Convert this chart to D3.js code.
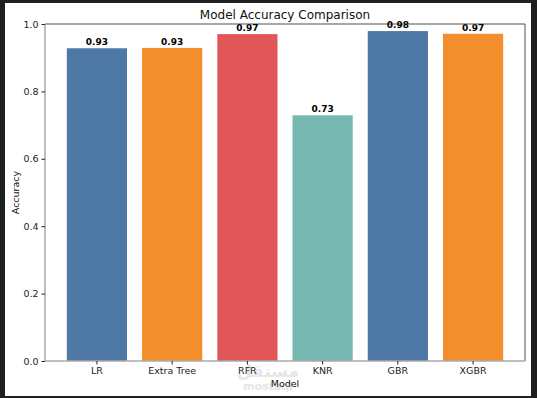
<html>
<head>
    <script src="https://d3js.org/d3.v7.min.js"></script>
    <style>
        body { margin: 0; background: #1f1f1f; }
        text { font-family: "DejaVu Sans", sans-serif; }
    </style>
</head>
<body>
    <div id="chart">
        <svg width="537" height="398"></svg>
    </div>
    <script>
        // data
        var models = ["LR", "Extra Tree", "RFR", "KNR", "GBR", "XGBR"]
        var accuracy = [0.928, 0.929, 0.970, 0.729, 0.979, 0.971]
        var barColors = ["#4e79a7", "#f28e2b", "#e15759", "#76b7b2", "#4e79a7", "#f28e2b"]
        var yTicks = [0.0, 0.2, 0.4, 0.6, 0.8, 1.0]

        var svg = d3.select("#chart svg")

        // white figure area
        svg.append("rect")
            .attr("x", 5).attr("y", 3)
            .attr("width", 526).attr("height", 393)
            .style("fill", "#fff")

        // plot box (note: "top" is reserved on window, so use plotX/plotY names)
        var plotL = 45, plotT = 24, plotR = 525, plotB = 361

        var xScale = d3.scaleBand()
            .domain(models)
            .range([plotL, plotR])
            .paddingInner(0.2)
            .paddingOuter(0.29)

        var yScale = d3.scaleLinear()
            .domain([0, 1])
            .range([plotB, plotT])

        // watermark
        svg.append("text")
            .attr("x", 268).attr("y", 377)
            .attr("text-anchor", "middle")
            .style("font-size", "17px").style("font-weight", "bold")
            .style("fill", "#e6e6e6")
            .text("مستقل")
        svg.append("text")
            .attr("x", 268).attr("y", 390)
            .attr("text-anchor", "middle")
            .style("font-size", "11px").style("font-weight", "bold")
            .style("fill", "#e6e6e6")
            .text("mostaql")

        // bars
        svg.selectAll("rect.bar")
            .data(models)
            .enter()
            .append("rect")
            .attr("class", "bar")
            .attr("x", function(d) { return xScale(d) })
            .attr("y", function(d, i) { return yScale(accuracy[i]) })
            .attr("width", xScale.bandwidth())
            .attr("height", function(d, i) { return plotB - yScale(accuracy[i]) })
            .style("fill", function(d, i) { return barColors[i] })

        // value labels
        svg.selectAll("text.val")
            .data(models)
            .enter()
            .append("text")
            .attr("class", "val")
            .attr("x", function(d) { return xScale(d) + xScale.bandwidth() / 2 })
            .attr("y", function(d, i) { return yScale(accuracy[i]) - 3 })
            .attr("text-anchor", "middle")
            .style("font-size", "9px")
            .style("font-weight", "bold")
            .style("fill", "#000")
            .text(function(d, i) { return d3.format(".2f")(accuracy[i]) })

        // spines
        svg.append("line").attr("x1", plotL).attr("x2", plotR).attr("y1", plotT).attr("y2", plotT)
            .style("stroke", "#222").style("stroke-width", 0.8)
        svg.append("line").attr("x1", plotR).attr("x2", plotR).attr("y1", plotT).attr("y2", plotB)
            .style("stroke", "#222").style("stroke-width", 0.8)

        var xAxis = d3.axisBottom(xScale).tickSize(3.5).tickPadding(3)
        var gx = svg.append("g")
            .attr("transform", "translate(0," + plotB + ")")
            .call(xAxis)
        gx.select(".domain").style("stroke", "#aaa").style("stroke-width", 1.5)
            .attr("d", "M" + plotL + ",0H" + plotR)
        gx.selectAll(".tick line").style("stroke", "#222")
        gx.selectAll(".tick text").style("font-size", "9.5px").style("fill", "#222")
            .style("font-family", "DejaVu Sans")

        var yAxis = d3.axisLeft(yScale).tickValues(yTicks).tickFormat(d3.format(".1f"))
            .tickSize(3.5).tickPadding(3)
        var gy = svg.append("g")
            .attr("transform", "translate(" + plotL + ",0)")
            .call(yAxis)
        gy.select(".domain").style("stroke", "#aaa").style("stroke-width", 1.5)
            .attr("d", "M0," + plotB + "V" + plotT)
        gy.selectAll(".tick line").style("stroke", "#222")
        gy.selectAll(".tick text").style("font-size", "9.5px").style("fill", "#222")
            .style("font-family", "DejaVu Sans")

        // title and axis labels
        svg.append("text")
            .attr("x", (plotL + plotR) / 2).attr("y", 19)
            .attr("text-anchor", "middle")
            .style("font-size", "12px").style("fill", "#111")
            .text("Model Accuracy Comparison")

        svg.append("text")
            .attr("x", (plotL + plotR) / 2).attr("y", 387)
            .attr("text-anchor", "middle")
            .style("font-size", "9.5px").style("fill", "#111")
            .text("Model")

        svg.append("text")
            .attr("transform", "translate(19," + (plotT + plotB) / 2 + ") rotate(-90)")
            .attr("text-anchor", "middle")
            .style("font-size", "9.5px").style("fill", "#111")
            .text("Accuracy")
    </script>
</body>
</html>
